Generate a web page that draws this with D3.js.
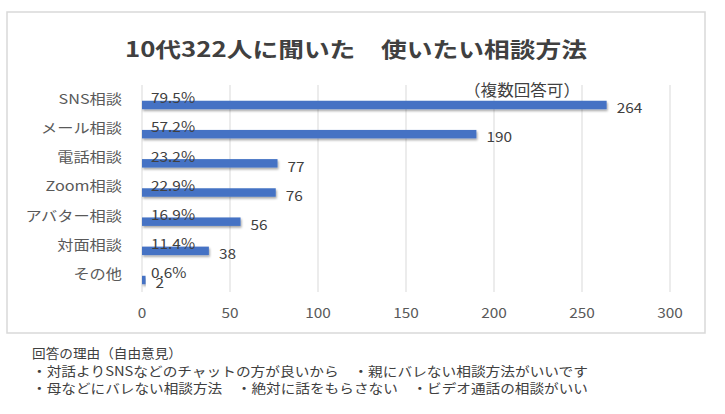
<!DOCTYPE html>
<html>
<head>
<meta charset="utf-8">
<script src="https://cdn.jsdelivr.net/npm/d3@7"></script>
<style>
  html, body { margin: 0; padding: 0; background: #ffffff; }
  svg { display: block; }
  text { font-family: "Noto Sans CJK JP", "Noto Sans", sans-serif; }
</style>
</head>
<body>
<svg id="chart" width="725" height="414"></svg>
<script>
// ---- data ----
const categories = ["SNS相談", "メール相談", "電話相談", "Zoom相談", "アバター相談", "対面相談", "その他"];
const counts = [264, 190, 77, 76, 56, 38, 2];
const percents = ["79.5%", "57.2%", "23.2%", "22.9%", "16.9%", "11.4%", "0.6%"];
const xTicks = [0, 50, 100, 150, 200, 250, 300];
const titleText = "10代322人に聞いた　使いたい相談方法";
const subtitleText = "（複数回答可）";
const noteLines = [
  "回答の理由（自由意見）",
  "・対話よりSNSなどのチャットの方が良いから　・親にバレない相談方法がいいです",
  "・母などにバレない相談方法　・絶対に話をもらさない　・ビデオ通話の相談がいい"
];

// ---- layout ----
const svg = d3.select("#chart");
const barColor = "#4472c4";
const labelGray = "#595959";
const darkGray = "#404040";
const stretch = 1.2;

const x = d3.scaleLinear().domain([0, 300]).range([142, 670]);
const y = d3.scaleBand().domain(categories).range([90.4, 294.6])
  .paddingInner(0.71).paddingOuter(0.355);

const defs = svg.append("defs");
const f = defs.append("filter").attr("id", "shadow")
  .attr("x", "-10%").attr("y", "-60%").attr("width", "120%").attr("height", "260%");
f.append("feDropShadow").attr("dx", 1).attr("dy", 1.8).attr("stdDeviation", 1.1)
  .attr("flood-color", "#000").attr("flood-opacity", 0.35);

// stretched text helper
function txt(parent, px, py, s, o) {
  const g = parent.append("g")
    .attr("transform", `translate(${px},${py}) scale(${o.sx || stretch},1)`);
  return g.append("text")
    .attr("x", 0).attr("y", 0)
    .attr("text-anchor", o.anchor || "start")
    .attr("dominant-baseline", "central")
    .attr("font-size", o.size || 13.5)
    .attr("font-weight", o.weight || "normal")
    .attr("fill", o.fill || labelGray)
    .text(s);
}

// chart frame
svg.append("rect").attr("x", 7).attr("y", 12).attr("width", 698).attr("height", 321)
  .attr("fill", "#fff").attr("stroke", "#d9d9d9").attr("stroke-width", 1.5);

// title
svg.append("text").attr("x", 125).attr("y", 48)
  .attr("dominant-baseline", "central")
  .attr("font-size", 21).attr("font-weight", "bold").attr("fill", darkGray)
  .attr("textLength", 462).attr("lengthAdjust", "spacingAndGlyphs")
  .text(titleText);

// gridlines
svg.append("g").selectAll("line").data(xTicks).join("line")
  .attr("x1", d => x(d)).attr("x2", d => x(d))
  .attr("y1", 85).attr("y2", 292)
  .attr("stroke", "#d9d9d9").attr("stroke-width", 1);

// subtitle
svg.append("text").attr("x", 464).attr("y", 89)
  .attr("dominant-baseline", "central")
  .attr("font-size", 16).attr("fill", darkGray)
  .attr("textLength", 116).attr("lengthAdjust", "spacingAndGlyphs")
  .text(subtitleText);

// x tick labels
const tg = svg.append("g");
xTicks.forEach(t => txt(tg, x(t), 312, t, { anchor: "middle", size: 14, sx: 1.1 }));

// category labels
const cg = svg.append("g");
categories.forEach(c => txt(cg, 122, y(c) + y.bandwidth() / 2 - 7, c, { anchor: "end", size: 13.5 }));

// bars
svg.append("g").selectAll("rect").data(categories).join("rect")
  .attr("x", x(0))
  .attr("y", d => y(d))
  .attr("width", (d, i) => x(counts[i]) - x(0))
  .attr("height", y.bandwidth())
  .attr("fill", barColor)
  .attr("filter", "url(#shadow)");

// percent labels
const pg = svg.append("g");
categories.forEach((c, i) => txt(pg, x(0) + 9, y(c) + y.bandwidth() / 2 - 8, percents[i],
  { size: 14, sx: 1.1, fill: darkGray }));

// value labels
const vg = svg.append("g");
categories.forEach((c, i) => txt(vg, x(counts[i]) + 10, y(c) + y.bandwidth() / 2 + 2, counts[i],
  { size: 14, sx: 1.1, fill: darkGray }));

// footnote
const noteLens = [150, 556, 556];
const noteY = [352, 370, 387];
noteLines.forEach((s, i) => {
  svg.append("text").attr("x", 32).attr("y", noteY[i])
    .attr("dominant-baseline", "central")
    .attr("font-size", 13).attr("fill", darkGray)
    .attr("textLength", noteLens[i]).attr("lengthAdjust", "spacingAndGlyphs")
    .text(s);
});
</script>
</body>
</html>
